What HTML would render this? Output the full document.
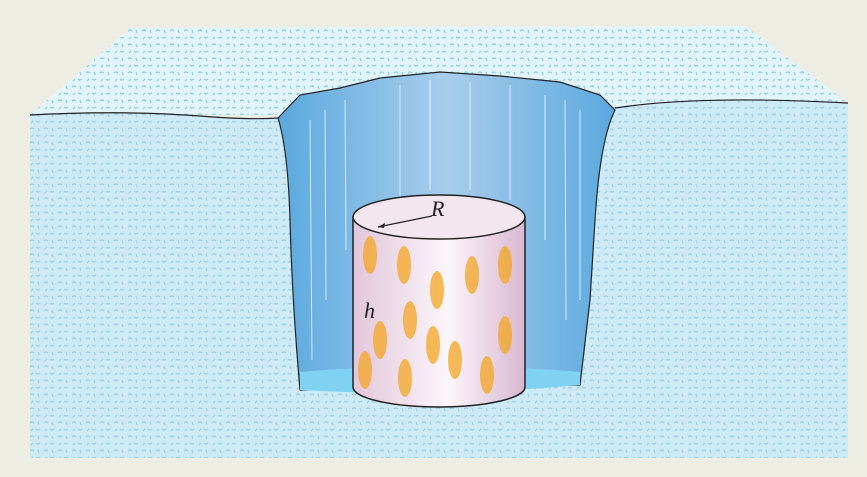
<!DOCTYPE html>
<html><head><meta charset="utf-8"><style>
html,body{margin:0;padding:0;background:#eeede3;}
svg{display:block;}
</style></head><body>
<svg width="867" height="477" viewBox="0 0 867 477" xmlns="http://www.w3.org/2000/svg">
<defs>
<pattern id="tex" width="14" height="14" patternUnits="userSpaceOnUse">
<rect width="14" height="14" fill="#cfeaf7"/>
<path d="M2 3 q2 -2 4 0 M8 9 q2 2 4 0 M3 11 l2 -2 M10 2 l1 3" stroke="#9ed0ec" stroke-width="1.3" fill="none"/>
</pattern>
<pattern id="tex2" width="14" height="14" patternUnits="userSpaceOnUse">
<rect width="14" height="14" fill="#e2f4fc"/>
<path d="M2 3 q2 -2 4 0 M8 9 q2 2 4 0 M3 11 l2 -2 M10 2 l1 3" stroke="#90d0f0" stroke-width="1.3" fill="none"/>
</pattern>
<linearGradient id="wall" x1="0" x2="1">
<stop offset="0" stop-color="#5aa9de"/><stop offset="0.5" stop-color="#a9cdeb"/><stop offset="1" stop-color="#5aa9de"/>
</linearGradient>
<linearGradient id="cyl" x1="0" x2="1">
<stop offset="0" stop-color="#e2c6da"/><stop offset="0.55" stop-color="#fbf6fa"/><stop offset="1" stop-color="#d8b8d0"/>
</linearGradient>
</defs>
<rect width="867" height="477" fill="#eeede3"/>
<path d="M30 115 L130 28 L745 26 L848 103 L848 115 L30 115 Z" fill="url(#tex2)"/>
<path d="M30 115 Q120 110 200 116 Q250 120 278 118 L300 100 L600 98 L615 108 Q700 95 848 103 L848 458 L30 458 Z" fill="url(#tex)"/>
<path d="M30 115 Q120 110 200 116 Q250 120 278 118 M615 108 Q700 95 848 103" stroke="#222" stroke-width="1.2" fill="none"/>
<path d="M278 118 L300 95 L340 88 L380 78 L440 72 L500 76 L560 82 L600 95 L615 110 Q600 140 595 220 L590 300 L580 385 L300 390 Q292 300 290 220 Q288 150 278 118 Z" fill="url(#wall)" stroke="#222" stroke-width="1.2"/>
<g stroke="#ffffff" stroke-width="1" opacity="0.7">
<line x1="310" y1="120" x2="312" y2="360"/><line x1="325" y1="110" x2="326" y2="300"/><line x1="345" y1="100" x2="346" y2="250"/>
<line x1="400" y1="85" x2="400" y2="200"/><line x1="430" y1="80" x2="430" y2="190"/><line x1="470" y1="82" x2="470" y2="190"/>
<line x1="510" y1="85" x2="510" y2="200"/><line x1="545" y1="95" x2="545" y2="240"/><line x1="565" y1="100" x2="566" y2="320"/><line x1="580" y1="110" x2="580" y2="300"/>
</g>
<path d="M300 372 Q440 360 580 372 L580 385 Q440 398 300 390 Z" fill="#80d2f2"/>
<path d="M353 217 L353 387 A86 20 0 0 0 525 387 L525 217 Z" fill="url(#cyl)" stroke="#222" stroke-width="1.5"/>
<g id="blobs" fill="#f5a623" opacity="0.75"></g>
<ellipse cx="439" cy="217" rx="86" ry="22" fill="#f3e6ef" stroke="#222" stroke-width="1.5"/>
<line x1="432" y1="216" x2="378" y2="227" stroke="#222" stroke-width="1.2"/>
<path d="M378 227 l7 -4 l-1 5 z" fill="#222"/>
<text x="431" y="216" font-family="Liberation Serif, serif" font-style="italic" font-size="22" fill="#222">R</text>
<text x="364" y="318" font-family="Liberation Serif, serif" font-style="italic" font-size="22" fill="#222">h</text>
</svg>
<script>
var g=document.getElementById('blobs');
var pts=[[370,255],[404,265],[437,290],[472,275],[505,265],[380,340],[410,320],[433,345],[455,360],[505,335],[405,378],[487,375],[365,370]];
pts.forEach(function(p){var e=document.createElementNS('http://www.w3.org/2000/svg','ellipse');


e.setAttribute('cx',p[0]);e.setAttribute('cy',p[1]);e.setAttribute('rx',7);e.setAttribute('ry',19);g.appendChild(e);});
</script>
</body></html>
